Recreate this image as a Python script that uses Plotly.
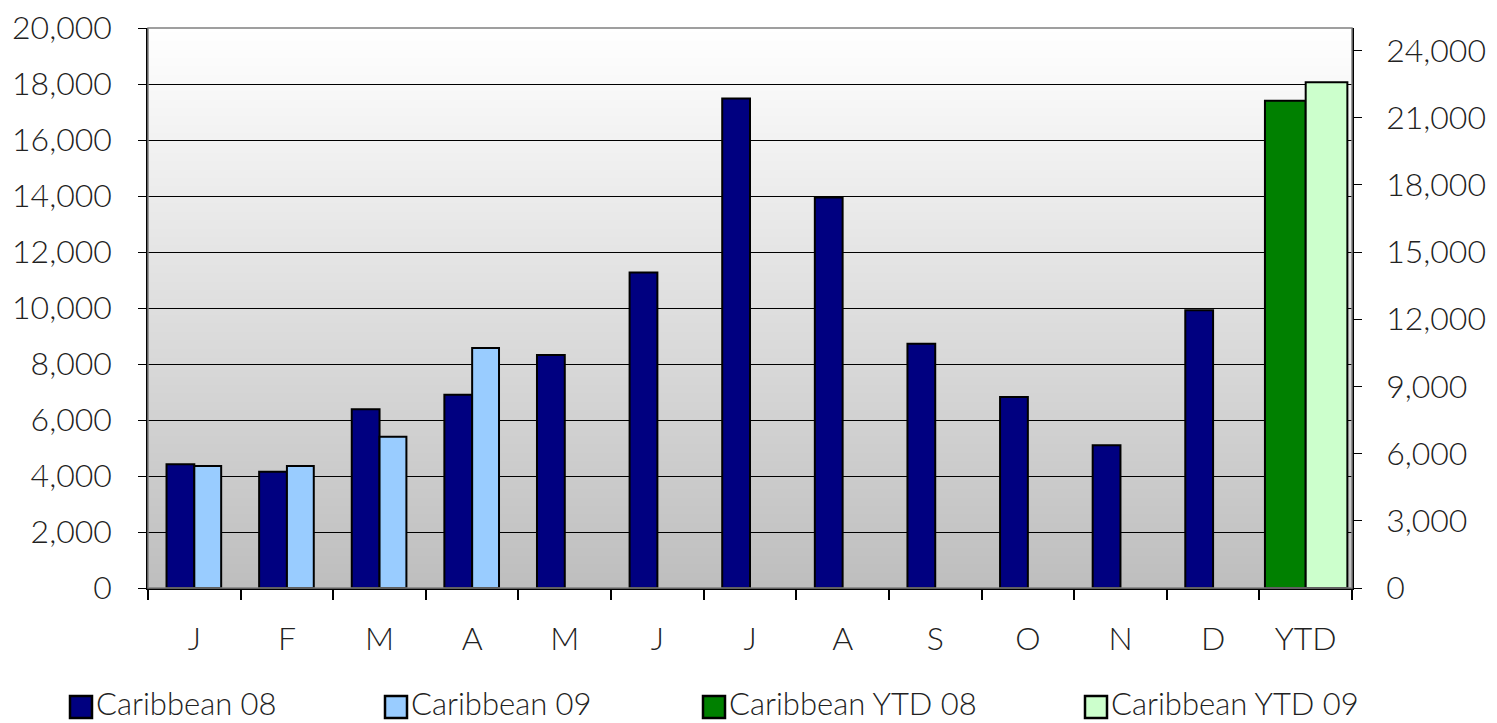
import plotly.graph_objects as go

# categories (unique keys) and their axis labels
months = ["Jan", "Feb", "Mar", "Apr", "May", "Jun", "Jul", "Aug", "Sep", "Oct", "Nov", "Dec", "YTD"]
month_labels = ["J", "F", "M", "A", "M", "J", "J", "A", "S", "O", "N", "D", "YTD"]

# series values
carib_08 = [4420, 4150, 6380, 6900, 8320, 11270, 17480, 13950, 8720, 6820, 5100, 9920]
carib_09 = [4360, 4360, 5400, 8570]
ytd_08 = [21750]
ytd_09 = [22580]

names = ["Caribbean 08", "Caribbean 09", "Caribbean YTD 08", "Caribbean YTD 09"]
colors = ["#000080", "#99ccff", "#008000", "#ccffcc"]

FONT = "Lato, 'DejaVu Sans', sans-serif"
W, H = 1497, 723
L, R, T, B = 148, 145, 28, 135
pw, ph = W - L - R, H - T - B

fig = go.Figure()

# gradient background for the plot area
n = 200
for i in range(n):
    g = round(255 - (255 - 190) * (i + 0.5) / n)
    fig.add_shape(type="rect", xref="paper", yref="paper",
                  x0=0, x1=1, y0=1 - (i + 1) / n, y1=1 - i / n + 0.002,
                  fillcolor=f"rgb({g},{g},{g})", line_width=0, layer="below")

bar_line = dict(color="black", width=2)
fig.add_trace(go.Bar(x=months[:12], y=carib_08, name=names[0], marker=dict(color=colors[0], line=bar_line),
                     offset=-0.3, width=0.3, showlegend=False))
fig.add_trace(go.Bar(x=months[:4], y=carib_09, name=names[1], marker=dict(color=colors[1], line=bar_line),
                     offset=0.0, width=0.29, showlegend=False))
fig.add_trace(go.Bar(x=["YTD"], y=ytd_08, name=names[2], marker=dict(color=colors[2], line=bar_line),
                     offset=-0.44, width=0.44, yaxis="y2", showlegend=False))
fig.add_trace(go.Bar(x=["YTD"], y=ytd_09, name=names[3], marker=dict(color=colors[3], line=bar_line),
                     offset=0.0, width=0.45, yaxis="y2", showlegend=False))

# plot frame (grey top / right edge)
fig.add_shape(type="rect", xref="paper", yref="paper", x0=0, x1=1, y0=0, y1=1,
              line=dict(color="#808080", width=1.5), layer="above")

# legend drawn by hand to get the large square swatches
leg_x = [70, 385, 703, 1085]
leg_y = 703
sq = 22
for px, name, col in zip(leg_x, names, colors):
    fig.add_shape(type="rect", xref="paper", yref="paper",
                  x0=(px - L) / pw, x1=(px + sq - L) / pw,
                  y0=(H - B - (leg_y + 4 + sq / 2)) / ph, y1=(H - B - (leg_y + 4 - sq / 2)) / ph,
                  fillcolor=col, line=dict(color="black", width=2.5))
    fig.add_annotation(xref="paper", yref="paper", x=(px + sq + 3 - L) / pw,
                       y=(H - B - leg_y) / ph, text=name, showarrow=False,
                       xanchor="left", yanchor="middle", borderpad=0,
                       font=dict(family=FONT, size=31, color="#222", weight=300))

fig.update_layout(
    width=W, height=H,
    margin=dict(l=L, r=R, t=T, b=B, autoexpand=False),
    paper_bgcolor="white", plot_bgcolor="rgba(0,0,0,0)",
    barmode="overlay",
    showlegend=False,
    font=dict(family=FONT, size=32, color="#222", weight=300),
    xaxis=dict(type="category", categoryorder="array", categoryarray=months,
               tickvals=months, ticktext=month_labels, tickson="boundaries",
               range=[-0.5, 12.5], showline=True, linecolor="black", linewidth=1.5,
               ticks="outside", ticklen=10, tickcolor="black", tickwidth=1.5,
               ticklabelstandoff=22, showgrid=False, automargin=False),
    yaxis=dict(range=[0, 20000], dtick=2000, tickformat=",d",
               showline=True, linecolor="black", linewidth=1.5,
               ticks="outside", ticklen=8, tickcolor="black",
               showgrid=True, gridcolor="black", gridwidth=1,
               ticklabelstandoff=20, zeroline=False, automargin=False),
    yaxis2=dict(range=[0, 25000], dtick=3000, tickformat=",d", overlaying="y", side="right",
                showline=True, linecolor="black", linewidth=1.5,
                ticks="outside", ticklen=8, tickcolor="black",
                showgrid=False, ticklabelstandoff=18, zeroline=False, automargin=False),
)

fig.write_html("out.html", config={"displayModeBar": False},
               post_script="document.body.style.margin='0';")
